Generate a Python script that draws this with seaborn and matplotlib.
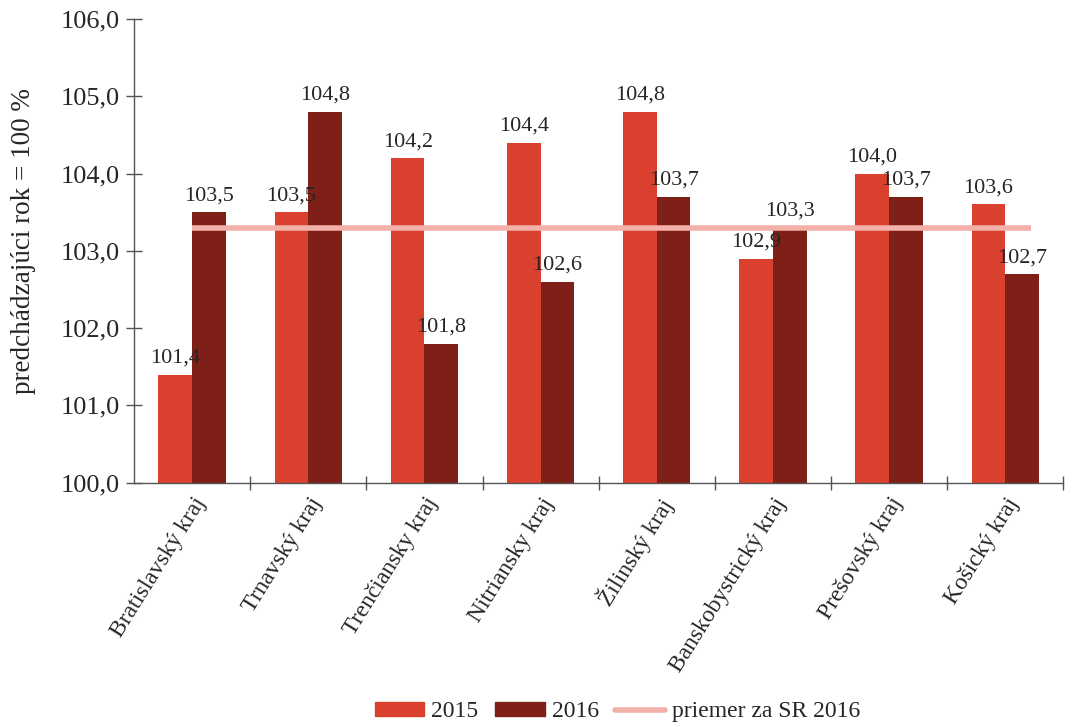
import pandas as pd
import numpy as np
import matplotlib.pyplot as plt
import seaborn as sns

kraje = ['Bratislavský kraj', 'Trnavský kraj', 'Trenčiansky kraj', 'Nitriansky kraj',
         'Žilinský kraj', 'Banskobystrický kraj', 'Prešovský kraj', 'Košický kraj']
hodnoty_2015 = [101.4, 103.5, 104.2, 104.4, 104.8, 102.9, 104.0, 103.6]
hodnoty_2016 = [103.5, 104.8, 101.8, 102.6, 103.7, 103.3, 103.7, 102.7]
priemer_sr_2016 = 103.3
roky = ['2015', '2016']
farby = ['#D9402E', '#7E1F18']
farba_priemer = '#F2B0A8'

df = pd.DataFrame({
    'kraj': kraje * 2,
    'rok': [roky[0]] * len(kraje) + [roky[1]] * len(kraje),
    'hodnota': hodnoty_2015 + hodnoty_2016,
})

sns.set_style('white')
plt.rcParams['font.family'] = ['Liberation Serif', 'DejaVu Serif']

fig = plt.figure(figsize=(10.87, 7.27), dpi=100)
ax = fig.add_axes([0.1233, 0.336, 0.855, 0.638])

sns.barplot(data=df, x='kraj', y='hodnota', hue='rok', palette=farby,
            width=0.58, saturation=1, linewidth=0, ax=ax, legend=False)

# priemer za SR
ax.hlines(priemer_sr_2016, 0, len(kraje) - 1 + 0.22, color=farba_priemer, lw=4, zorder=3)

# popisky hodnot
for cont in ax.containers:
    ax.bar_label(cont, labels=[f'{v:.1f}'.replace('.', ',') for v in cont.datavalues],
                 padding=5, fontsize=16)

ax.set_ylim(100, 106)
ax.set_xlim(-0.5, len(kraje) - 0.5)
ax.set_yticks(np.arange(100, 106.1, 1))
ax.set_yticklabels([f'{v:.1f}'.replace('.', ',') for v in np.arange(100, 106.1, 1)], fontsize=19)
ax.set_ylabel('predchádzajúci rok = 100 %', fontsize=19.5)
ax.yaxis.set_label_coords(-0.106, 0.52)
ax.set_xlabel('')
ax.set_xticks(range(len(kraje)))
ax.set_xticklabels(kraje, rotation=58, ha='right', rotation_mode='anchor', fontsize=17)
ax.tick_params(axis='x', which='major', length=0, pad=8)
ax.set_xticks(np.arange(0.5, len(kraje), 1), minor=True)
ax.tick_params(axis='x', which='minor', bottom=True, direction='inout', length=10,
               width=1, color='#555555')
ax.tick_params(axis='y', left=True, direction='inout', length=12, width=1,
               color='#555555', pad=4)

for s in ['top', 'right']:
    ax.spines[s].set_visible(False)
for s in ['left', 'bottom']:
    ax.spines[s].set_color('#555555')
    ax.spines[s].set_linewidth(1)

handles = [plt.Rectangle((0, 0), 1, 1, color=farby[0]),
           plt.Rectangle((0, 0), 1, 1, color=farby[1]),
           plt.Line2D([0], [0], color=farba_priemer, lw=4)]
fig.legend(handles, roky + ['priemer za SR 2016'], loc='center', bbox_to_anchor=(0.568, 0.021),
           ncol=3, frameon=False, fontsize=17, handlelength=2.1, handleheight=0.5,
           columnspacing=0.7, handletextpad=0.3)

plt.savefig('out.png', dpi=100)
